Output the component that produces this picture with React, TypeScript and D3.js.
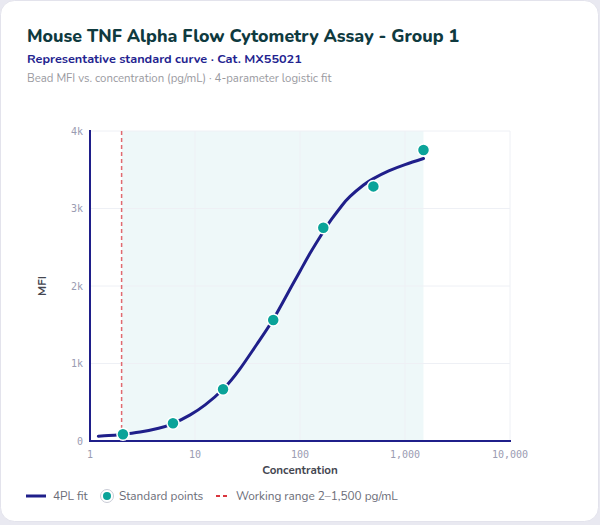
import React from "react";
import * as d3 from "d3";

// ---- Data ----
const standardConc = [2.06, 6.17, 18.5, 55.6, 166.7, 500, 1500];
const standardMFI = [88, 228, 667, 1561, 2752, 3285, 3755];

const fitConc = [1.2, 1.5, 2, 3, 4.5, 6.17, 9, 12.5, 18.5, 26.8, 38.7, 55.6, 80, 100, 125, 166.7, 200, 250, 300, 400, 500, 700, 1000, 1500];
const fitMFI = [62, 70, 85, 115, 165, 225, 337, 466, 667, 930, 1245, 1570, 1955, 2190, 2425, 2700, 2862, 3036, 3156, 3300, 3385, 3484, 3566, 3645];

const workingRange = [2, 1500];
const xTicks = [1, 10, 100, 1000, 10000];
const yTicks = [0, 1000, 2000, 3000, 4000];

const W = 600;
const H = 525;
const M = { left: 90, right: 510, top: 131, bottom: 441 };

const FONT = "Nunito, Lato, 'Open Sans', sans-serif";
const MONO = "'DejaVu Sans Mono', 'Liberation Mono', monospace";

export default function App() {
  const x = d3.scaleLog().domain([1, 10000]).range([M.left, M.right]);
  const y = d3.scaleLinear().domain([0, 4000]).range([M.bottom, M.top]);

  const fitData = fitConc.map((c, i) => [c, fitMFI[i]] as [number, number]);
  const line = d3
    .line<[number, number]>()
    .x((d) => x(d[0]))
    .y((d) => y(d[1]))
    .curve(d3.curveNatural);

  const fmtX = d3.format(",");
  const fmtY = (v: number) => (v === 0 ? "0" : `${v / 1000}k`);

  return (
    <svg
      width={W}
      height={H}
      style={{ position: "absolute", left: 0, top: 0, display: "block" }}
      fontFamily={FONT}
    >
      <rect x={0} y={0} width={W} height={H} fill="#e9e9f1" />
      <rect x={0.5} y={0.5} width={598} height={521} rx={14} fill="#ffffff" stroke="#e3e3ec" />

      <text x={27} y={42} fontSize={17.8} fontWeight={800} fill="#0f3a3f">
        Mouse TNF Alpha Flow Cytometry Assay - Group 1
      </text>
      <text x={27} y={63} fontSize={12.7} fontWeight={700} fill="#23238f">
        Representative standard curve · Cat. MX55021
      </text>
      <text x={27} y={82} fontSize={11.4} fill="#9a9a9f">
        Bead MFI vs. concentration (pg/mL) · 4-parameter logistic fit
      </text>

      {/* working range band */}
      <rect
        x={x(workingRange[0])}
        y={M.top}
        width={x(workingRange[1]) - x(workingRange[0])}
        height={M.bottom - M.top}
        fill="#eef8f9"
      />

      {/* grid */}
      {yTicks.map((t) => (
        <line key={"gy" + t} x1={M.left} x2={M.right} y1={y(t)} y2={y(t)} stroke="#eef0f5" strokeWidth={1} />
      ))}
      {xTicks.map((t) => (
        <line key={"gx" + t} x1={x(t)} x2={x(t)} y1={M.top} y2={M.bottom} stroke="#eef0f5" strokeWidth={1} />
      ))}

      {/* working range line */}
      <line
        x1={x(workingRange[0])}
        x2={x(workingRange[0])}
        y1={M.top}
        y2={M.bottom}
        stroke="#e06a70"
        strokeWidth={1.5}
        strokeDasharray="4,3"
      />

      {/* axes */}
      <line x1={M.left} x2={M.left} y1={M.top - 1} y2={M.bottom + 1} stroke="#1f1f8a" strokeWidth={2} />
      <line x1={M.left - 1} x2={M.right + 1} y1={M.bottom} y2={M.bottom} stroke="#1f1f8a" strokeWidth={2} />

      {yTicks.map((t) => (
        <text key={"ty" + t} x={M.left - 7} y={y(t)} dy="0.35em" textAnchor="end" fontSize={10} fontFamily={MONO} fill="#9a9cb2">
          {fmtY(t)}
        </text>
      ))}
      {xTicks.map((t) => (
        <text key={"tx" + t} x={x(t)} y={454} dy="0.35em" textAnchor="middle" fontSize={10} fontFamily={MONO} fill="#9a9cb2">
          {fmtX(t)}
        </text>
      ))}

      <text x={(M.left + M.right) / 2} y={474} textAnchor="middle" fontSize={11.6} fontWeight={700} fill="#444650">
        Concentration
      </text>
      <text
        transform={`translate(46,${(M.top + M.bottom) / 2}) rotate(-90)`}
        textAnchor="middle"
        fontSize={11.6}
        fontWeight={700}
        fill="#444650"
      >
        MFI
      </text>

      {/* fit curve */}
      <path d={line(fitData) || ""} fill="none" stroke="#1f1f8a" strokeWidth={3} strokeLinecap="round" />

      {/* standard points */}
      {standardConc.map((c, i) => (
        <circle key={"p" + i} cx={x(c)} cy={y(standardMFI[i])} r={6} fill="#0aa399" stroke="#ffffff" strokeWidth={1.5} />
      ))}

      {/* legend */}
      <line x1={26} x2={46} y1={496} y2={496} stroke="#1f1f8a" strokeWidth={3} />
      <text x={53} y={496} dy="0.35em" fontSize={11.8} fill="#6b6d78">4PL fit</text>
      <circle cx={107} cy={496} r={6.5} fill="#ffffff" stroke="#c9ccd6" strokeWidth={1} />
      <circle cx={107} cy={496} r={4} fill="#0aa399" />
      <text x={119} y={496} dy="0.35em" fontSize={11.8} fill="#6b6d78">Standard points</text>
      <line x1={216} x2={230} y1={496} y2={496} stroke="#d9363e" strokeWidth={2} strokeDasharray="4,3" />
      <text x={236} y={496} dy="0.35em" fontSize={11.8} fill="#6b6d78">Working range 2–1,500 pg/mL</text>
    </svg>
  );
}
